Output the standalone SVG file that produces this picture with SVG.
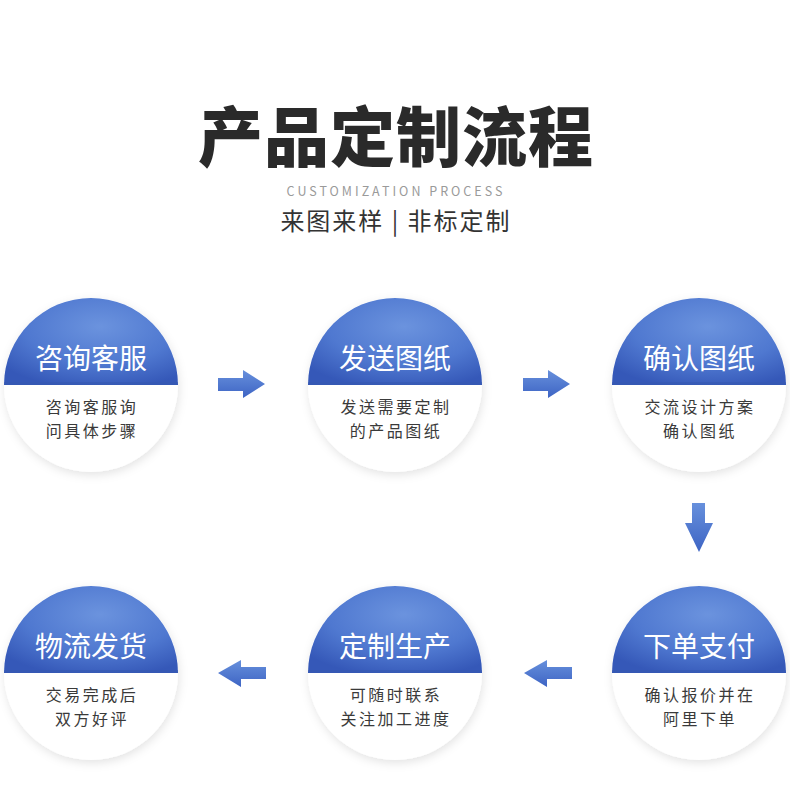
<svg xmlns="http://www.w3.org/2000/svg" width="790" height="791" viewBox="0 0 790 791">
<defs>
<style>
.ttl{font-family:"Noto Sans CJK SC","Noto Sans",sans-serif;}
.nt{font-family:"Noto Sans CJK SC","Noto Sans",sans-serif;font-size:28px;fill:#ffffff;text-anchor:middle;dominant-baseline:central;}
.st{font-family:"Noto Sans CJK SC","Noto Sans",sans-serif;font-size:16px;letter-spacing:2.5px;fill:#3a3a3a;text-anchor:middle;}
.arr{fill:url(#ag);}
</style>
<radialGradient id="bg" cx="55%" cy="35%" r="70%">
<stop offset="0" stop-color="#6b93de"/>
<stop offset="0.6" stop-color="#4f78d0"/>
<stop offset="1" stop-color="#3558b8"/>
</radialGradient>
<linearGradient id="ag" x1="0" y1="0" x2="0" y2="1">
<stop offset="0" stop-color="#6790dc"/>
<stop offset="1" stop-color="#3d64c4"/>
</linearGradient>
<filter id="sh" x="-20%" y="-20%" width="140%" height="140%">
<feDropShadow dx="1" dy="3" stdDeviation="5" flood-color="#000" flood-opacity="0.11"/>
</filter>
<clipPath id="cc"><circle cx="0" cy="0" r="87"/></clipPath>
<g id="disc">
<circle cx="0" cy="0" r="87" fill="#ffffff" filter="url(#sh)"/>
<g clip-path="url(#cc)">
<rect x="-90" y="-90" width="180" height="90" fill="url(#bg)"/>
<rect x="-90" y="-3" width="180" height="3" fill="#3558b0" opacity="0.6"/>
</g>
</g>
</defs>
<rect width="790" height="791" fill="#ffffff"/>
<g id="header">
<text class="ttl" x="396" y="133" font-size="65" font-weight="800" fill="#2a2a2a" letter-spacing="1" text-anchor="middle" dominant-baseline="central">产品定制流程</text>
<text class="ttl" x="396" y="190" font-size="12.5" fill="#9a9a9a" letter-spacing="3" text-anchor="middle" dominant-baseline="central">CUSTOMIZATION PROCESS</text>
<text class="ttl" x="396" y="219" font-size="24" fill="#333333" letter-spacing="2" text-anchor="middle" dominant-baseline="central">来图来样 | 非标定制</text>
</g>
<g id="n1" transform="translate(91,385)"><use href="#disc"/><text class="nt" x="0" y="-28">咨询客服</text><text class="st"><tspan x="1" y="28">咨询客服询</tspan><tspan x="1" y="52">问具体步骤</tspan></text></g>
<g id="n2" transform="translate(395,385)"><use href="#disc"/><text class="nt" x="0" y="-28">发送图纸</text><text class="st"><tspan x="1" y="28">发送需要定制</tspan><tspan x="1" y="52">的产品图纸</tspan></text></g>
<g id="n3" transform="translate(699,385)"><use href="#disc"/><text class="nt" x="0" y="-28">确认图纸</text><text class="st"><tspan x="1" y="28">交流设计方案</tspan><tspan x="1" y="52">确认图纸</tspan></text></g>
<g id="n4" transform="translate(699,673)"><use href="#disc"/><text class="nt" x="0" y="-28">下单支付</text><text class="st"><tspan x="1" y="28">确认报价并在</tspan><tspan x="1" y="52">阿里下单</tspan></text></g>
<g id="n5" transform="translate(395,673)"><use href="#disc"/><text class="nt" x="0" y="-28">定制生产</text><text class="st"><tspan x="1" y="28">可随时联系</tspan><tspan x="1" y="52">关注加工进度</tspan></text></g>
<g id="n6" transform="translate(91,673)"><use href="#disc"/><text class="nt" x="0" y="-28">物流发货</text><text class="st"><tspan x="1" y="28">交易完成后</tspan><tspan x="1" y="52">双方好评</tspan></text></g>
<g id="connectors">
<polygon class="arr" points="218,378 243,378 243,370 265,384 243,398 243,391 218,391"/>
<polygon class="arr" points="523,378 548,378 548,370 570,384 548,398 548,391 523,391"/>
<polygon class="arr" points="692,503 705,503 705,523 713,523 699,552 685,523 692,523"/>
<polygon class="arr" points="266,667 241,667 241,660 218,673 241,687 241,679 266,679"/>
<polygon class="arr" points="572,667 547,667 547,660 524,673 547,687 547,679 572,679"/>
</g>
</svg>
